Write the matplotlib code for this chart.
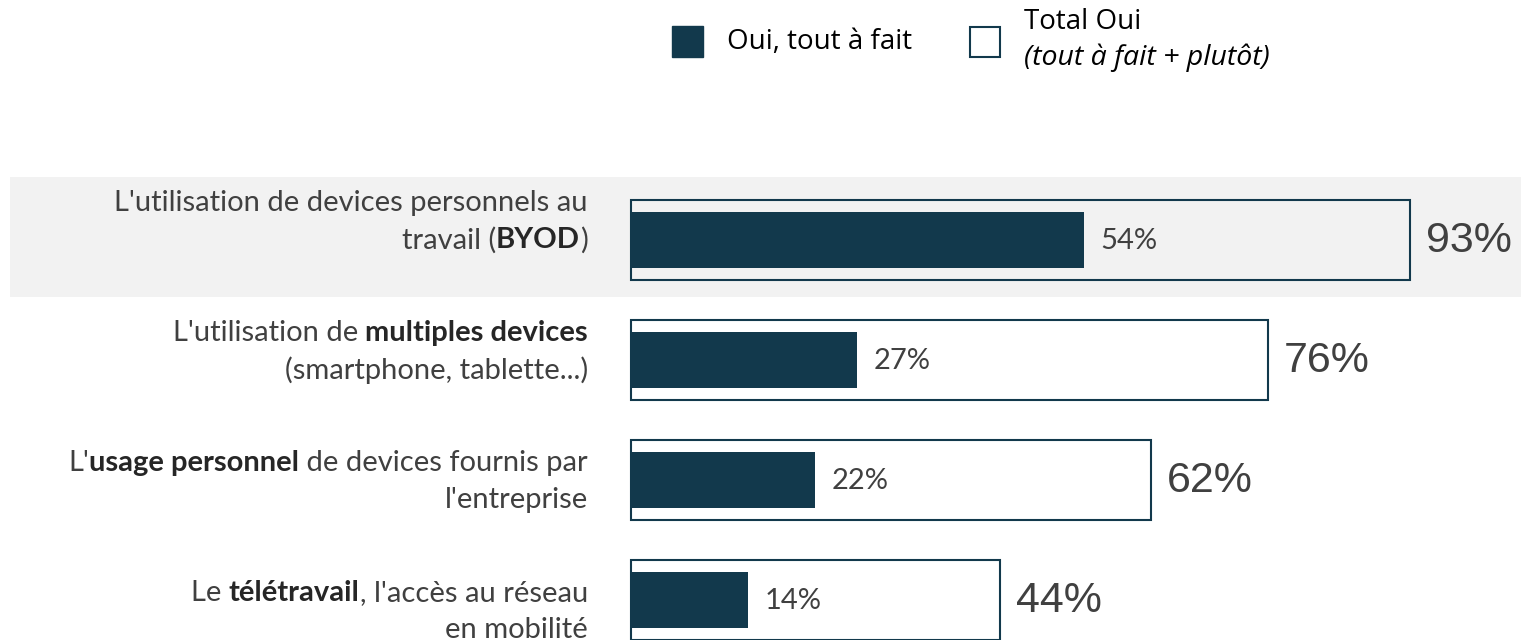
import matplotlib
matplotlib.use("Agg")
import matplotlib.pyplot as plt
from matplotlib.patches import Rectangle

# donnees
labels = [
    [[("L'utilisation de devices personnels au", False)], [("travail (", False), ("BYOD", True), (")", False)]],
    [[("L'utilisation de ", False), ("multiples devices", True)], [("(smartphone, tablette...)", False)]],
    [[("L'", False), ("usage personnel", True), (" de devices fournis par", False)], [("l'entreprise", False)]],
    [[("Le ", False), ("télétravail", True), (", l'accès au réseau", False)], [("en mobilité", False)]],
]
tout_a_fait = [54, 27, 22, 14]
total_oui = [93, 76, 62, 44]

dark = "#12394c"
grey_txt = "#404040"

W, H = 1521, 640
fig = plt.figure(figsize=(W / 100, H / 100), dpi=100)
ax = fig.add_axes([0, 0, 1, 1])
px = 8.38  # pixels par %
x0 = 631
ax.set_xlim(-x0 / px, (W - x0) / px)
ax.set_ylim((H - 240) / 120, -240 / 120)
ax.axis("off")

# bande grise de la premiere ligne
ax.add_patch(Rectangle((-(x0 - 10) / px, -0.525), 200, 1.0, facecolor="#f2f2f2", edgecolor="none", zorder=0))

for i in range(len(total_oui)):
    ax.add_patch(Rectangle((0, i - 0.335), total_oui[i], 0.67, facecolor="none",
                           edgecolor=dark, linewidth=1.5, zorder=2))
    ax.barh(i, tout_a_fait[i], height=0.47, color=dark, zorder=3)
    ax.text(tout_a_fait[i] + 2.0, i + 0.01, f"{tout_a_fait[i]}%", family="Lato", fontsize=21,
            color=grey_txt, va="center", ha="left")
    ax.text(total_oui[i] + 1.9, i + 0.01, f"{total_oui[i]}%", family="Liberation Sans", fontsize=31,
            color=grey_txt, va="center", ha="left")

# libelles avec parties en gras, alignes a droite
fig.canvas.draw()
renderer = fig.canvas.get_renderer()
fs = 21


def width(s, bold):
    t = fig.text(0, 0, "|" + s + "|", family="Lato", fontsize=fs, weight="bold" if bold else "normal")
    t2 = fig.text(0, 0, "||", family="Lato", fontsize=fs, weight="bold" if bold else "normal")
    w = t.get_window_extent(renderer).width - t2.get_window_extent(renderer).width
    t.remove()
    t2.remove()
    return w


x_right = 588
for i, lines in enumerate(labels):
    yc = 222 + i * 130
    for j, segs in enumerate(lines):
        y = H - (yc - 19 + j * 37)
        total = sum(width(s, b) for s, b in segs)
        x = x_right - total
        for s, b in segs:
            fig.text(x / W, y / H, s, family="Lato", fontsize=fs, weight="bold" if b else "normal",
                     color="#262626" if b else grey_txt, va="center", ha="left")
            x += width(s, b)

# legende
fig.add_artist(Rectangle((672 / W, 1 - 57 / H), 31 / W, 31 / H, transform=fig.transFigure,
                         facecolor=dark, edgecolor=dark))
fig.text(727 / W, 1 - 42 / H, "Oui, tout à fait", family="Open Sans", fontsize=20, color="black", va="center")
fig.add_artist(Rectangle((970 / W, 1 - 57 / H), 30 / W, 30 / H, transform=fig.transFigure,
                         facecolor="white", edgecolor=dark, linewidth=1.5))
fig.text(1024 / W, 1 - 22 / H, "Total Oui", family="Open Sans", fontsize=20, color="black", va="center")
fig.text(1024 / W, 1 - 58 / H, "(tout à fait + plutôt)", family="Open Sans", style="italic", fontsize=20.5,
         color="black", va="center")

fig.savefig("out.png", dpi=100)
